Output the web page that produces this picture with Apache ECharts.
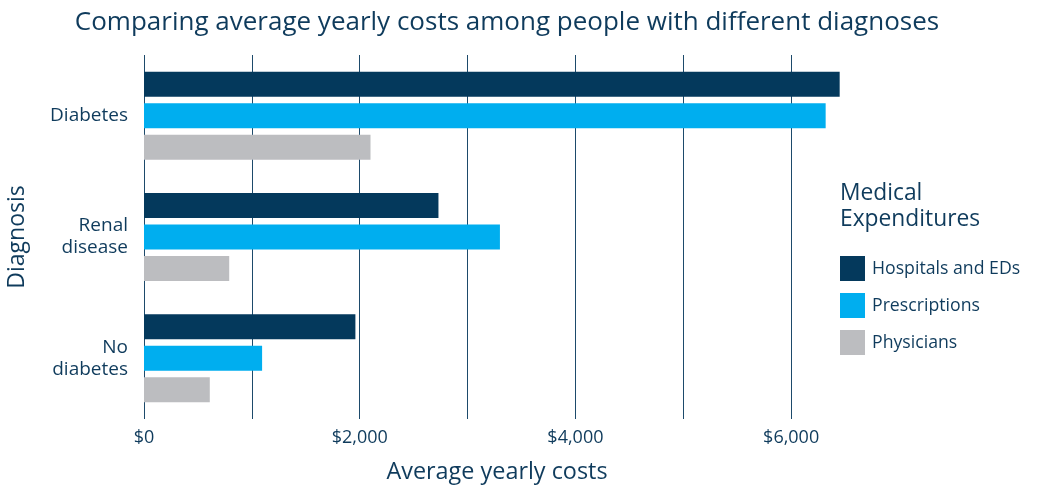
<!DOCTYPE html>
<html>
<head>
<meta charset="utf-8">
<script src="https://cdn.jsdelivr.net/npm/echarts@6/dist/echarts.min.js"></script>
<style>
html,body{margin:0;padding:0;background:#fff;}
#chart{width:1043px;height:485px;}
</style>
</head>
<body>
<div id="chart"></div>
<script>
const categories = ['Diabetes', 'Renal\ndisease', 'No\ndiabetes'];
const seriesNames = ['Hospitals and EDs', 'Prescriptions', 'Physicians'];
const hospitals = [6450, 2730, 1960];
const prescriptions = [6320, 3300, 1095];
const physicians = [2100, 790, 610];
const xTickLabels = {0: '$0', 2000: '$2,000', 4000: '$4,000', 6000: '$6,000'};

const TEXT = '#0f3b5c';
const FONT = 'Open Sans';
const colors = ['#04395c', '#00aeef', '#bcbdc0'];
const values = [hospitals, prescriptions, physicians];

const chart = echarts.init(document.getElementById('chart'));
chart.setOption({
  animation: false,
  textStyle: { fontFamily: FONT, color: TEXT },
  title: [
    { text: 'Comparing average yearly costs among people with different diagnoses',
      left: 507, top: 10, padding: 0, textAlign: 'center',
      textStyle: { fontFamily: FONT, fontSize: 26, fontWeight: 'normal', color: TEXT } },
    { text: 'Average yearly costs', left: 497, top: 461, padding: 0, textAlign: 'center',
      textStyle: { fontFamily: FONT, fontSize: 23.4, fontWeight: 'normal', color: TEXT } },
    { text: 'Medical\nExpenditures', left: 840, top: 181, padding: 0,
      textStyle: { fontFamily: FONT, fontSize: 22.8, fontWeight: 'normal', color: TEXT, lineHeight: 26 } }
  ],
  legend: {
    orient: 'vertical', left: 840, top: 256, padding: 0,
    itemWidth: 25, itemHeight: 25, itemGap: 12, icon: 'rect',
    textStyle: { fontFamily: FONT, fontSize: 17.7, color: TEXT, padding: [2, 0, 0, 2] },
    data: seriesNames
  },
  grid: { left: 144, right: 144, top: 55, bottom: 66, containLabel: false, outerBoundsMode: 'none' },
  xAxis: {
    type: 'value', min: 0, max: 7000, interval: 1000,
    axisLine: { show: false }, axisTick: { show: false },
    splitLine: { show: true, showMaxLine: false, lineStyle: { color: '#1d4a6b', width: 1 } },
    axisLabel: { showMaxLabel: false, margin: 10, fontFamily: FONT, fontSize: 18, color: TEXT,
      formatter: v => xTickLabels[v] || '' }
  },
  yAxis: {
    type: 'category', data: categories, inverse: true,
    axisLine: { show: false }, axisTick: { show: false },
    name: 'Diagnosis', nameLocation: 'middle', nameGap: 115, nameRotate: 90,
    nameTextStyle: { fontFamily: FONT, fontSize: 23, color: TEXT },
    axisLabel: { margin: 16, fontFamily: FONT, fontSize: 19, color: TEXT, lineHeight: 22, align: 'right' }
  },
  series: seriesNames.map((n, i) => ({
    name: n, type: 'bar', data: values[i], barWidth: 25, barGap: '26%',
    itemStyle: { color: colors[i] }
  }))
});
</script>
</body>
</html>
